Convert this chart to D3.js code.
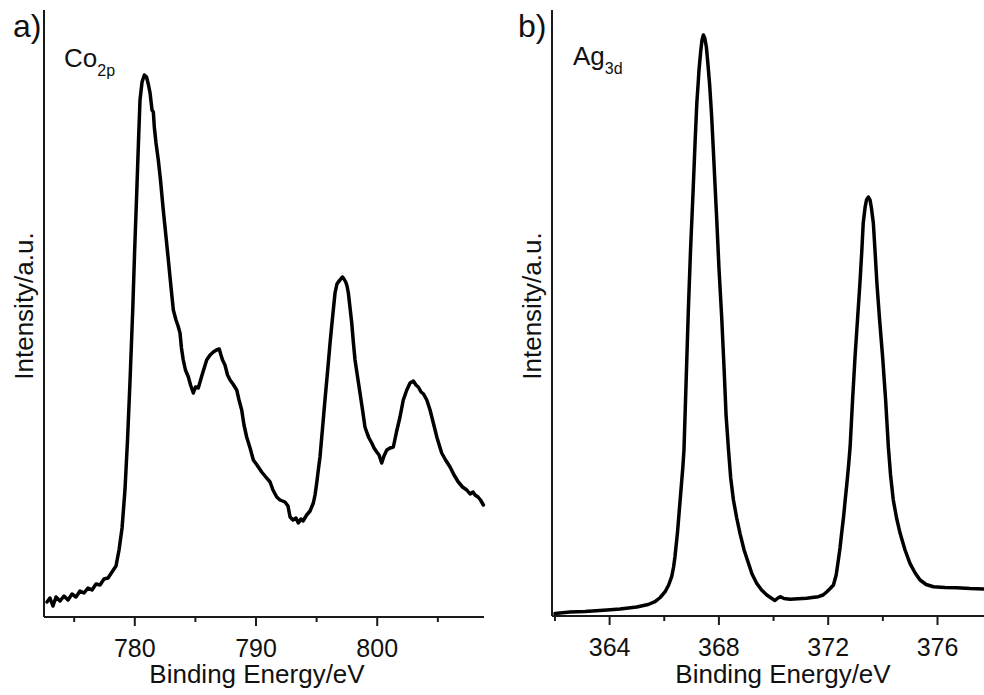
<!DOCTYPE html>
<html>
<head>
<meta charset="utf-8">
<script src="https://cdn.jsdelivr.net/npm/d3@7"></script>
<style>
  html, body { margin: 0; padding: 0; background: #fff; }
  svg { display: block; font-family: "Liberation Sans", Arial, sans-serif; }
</style>
</head>
<body>
<svg id="chart" width="984" height="695"></svg>
<script>
// ---------- Panel a: Co 2p ----------
const coEnergy = [772.80,773.04,773.29,773.54,773.87,774.20,774.53,774.86,775.19,775.52,775.85,776.18,776.51,776.84,777.17,777.50,777.83,778.16,778.49,778.74,778.99,779.23,779.44,779.65,779.87,780.03,780.20,780.35,780.47,780.64,780.83,781.01,781.17,781.30,781.46,781.57,781.65,781.79,781.98,782.16,782.39,782.60,782.81,783.01,783.22,783.44,783.61,783.77,783.89,784.04,784.22,784.46,784.64,784.87,785.05,785.28,785.59,785.97,786.25,786.52,786.78,787.01,787.15,787.28,787.48,787.69,787.90,788.14,788.45,788.64,788.86,789.05,789.27,789.55,789.82,790.12,790.51,790.78,791.20,791.44,791.75,792.02,792.43,792.68,792.85,793.09,793.34,793.53,793.75,793.92,794.22,794.50,794.77,794.91,795.05,795.18,795.32,795.53,795.73,795.94,796.15,796.35,796.56,796.72,796.83,796.97,797.16,797.30,797.44,797.55,797.66,797.80,797.94,798.07,798.21,798.42,798.62,798.83,799.03,799.20,799.36,799.59,799.78,800.00,800.19,800.41,800.60,800.83,801.10,801.37,801.63,801.92,802.19,802.48,802.75,803.02,803.24,803.43,803.66,803.86,804.13,804.40,804.67,804.98,805.36,805.68,806.05,806.38,806.73,807.08,807.43,807.70,807.95,808.11,808.36,808.56,808.80];
const coIntensity = [15,19,11,20,16,21,17,23,20,26,24,29,27,33,32,38,39,45,51,67,89,127,177,237,307,367,424,477,517,535,542,540,532,524,507,505,490,474,457,437,407,382,357,332,307,297,291,284,269,257,247,240,232,224,230,229,242,257,262,265,267,268,262,257,252,242,237,233,227,217,207,192,180,169,157,152,145,141,135,127,120,117,115,111,100,97,99,94,98,96,102,106,114,122,134,147,160,189,217,245,274,299,324,333,335,337,340,338,335,331,324,309,294,275,257,240,224,207,190,184,179,174,169,165,162,154,161,167,169,170,185,200,217,227,234,236,232,230,225,223,217,207,194,179,164,157,150,142,135,130,127,123,125,122,120,117,112];
const coMajorTicks = [780, 790, 800];
const coMinorTicks = [775, 785, 795, 805];

// ---------- Panel b: Ag 3d ----------
const agEnergy = [362.02,362.57,363.12,363.92,364.40,365.01,365.43,365.68,365.87,366.05,366.18,366.29,366.36,366.41,366.50,366.60,366.70,366.74,366.82,366.90,366.98,367.08,367.15,367.21,367.26,367.29,367.35,367.40,367.45,367.50,367.56,367.61,367.68,367.75,367.82,367.88,367.94,368.02,368.12,368.21,368.28,368.37,368.45,368.55,368.67,368.79,368.94,369.10,369.23,369.40,369.58,369.77,369.93,370.07,370.18,370.26,370.40,370.62,370.92,371.23,371.43,371.66,371.83,371.97,372.09,372.21,372.31,372.39,372.45,372.51,372.58,372.64,372.70,372.76,372.82,372.91,373.00,373.09,373.18,373.25,373.30,373.37,373.42,373.49,373.55,373.60,373.67,373.73,373.80,373.90,374.01,374.12,374.22,374.30,374.40,374.52,374.65,374.83,375.01,375.20,375.38,375.60,375.87,376.29,376.72,377.21,377.70];
const agIntensity = [2.5,4,4.5,6,7,9,11.5,14.3,18.5,24.3,31,39.3,49,59.3,82.7,116,149.3,166,236,306,366,429,476,513,533,546,564,576,581,578,569,554,531,501,463,429,396,348,299,246,201,166,138,116,98,82.7,66,52.7,42,32.7,26,21,18,15.5,18,19.3,17.5,16.7,17.2,17.7,18.5,19.3,21,24.3,27.5,31,41,56,68,82.7,99,116,132,149.3,169,216,259,296,333,366,393,409,416,419,416,408,393,366,333,296,259,216,169,141,116,98,82.7,66,52.7,43,36,31.5,29.3,28.5,28.3,27.5,27];
const agMajorTicks = [364, 368, 372, 376];
const agMinorTicks = [362, 366, 370, 374];

const panels = [
  { label: "a)", el: "Co", sub: "2p", energy: coEnergy, intensity: coIntensity,
    major: coMajorTicks, minor: coMinorTicks,
    xDomain: [772.55, 808.85], xRange: [44, 484], yDomain: [0, 607], yRange: [617, 10],
    labelX: 13, elX: 64, elY: 67, titleX: 257, yTitleX: 33 },
  { label: "b)", el: "Ag", sub: "3d", energy: agEnergy, intensity: agIntensity,
    major: agMajorTicks, minor: agMinorTicks,
    xDomain: [361.91, 377.72], xRange: [552, 984], yDomain: [0, 606], yRange: [616, 10],
    labelX: 518, elX: 573, elY: 65, titleX: 783, yTitleX: 541 }
];

const svg = d3.select("#chart");
const axisColor = "#1a1a1a";

panels.forEach(p => {
  const x = d3.scaleLinear().domain(p.xDomain).range(p.xRange);
  const y = d3.scaleLinear().domain(p.yDomain).range(p.yRange);
  const y0 = p.yRange[0];
  const g = svg.append("g");

  // minor ticks
  g.append("g").attr("transform", `translate(0,${y0})`)
    .call(d3.axisBottom(x).tickValues(p.minor).tickSize(5).tickSizeOuter(0).tickFormat(""))
    .call(s => s.select(".domain").remove())
    .call(s => s.selectAll("line").attr("stroke", axisColor).attr("stroke-width", 2));

  // major ticks with labels
  g.append("g").attr("transform", `translate(0,${y0})`)
    .call(d3.axisBottom(x).tickValues(p.major).tickSize(9).tickSizeOuter(0).tickPadding(13).tickFormat(d3.format("d")))
    .call(s => s.select(".domain").remove())
    .call(s => s.selectAll("line").attr("stroke", axisColor).attr("stroke-width", 2))
    .call(s => s.selectAll("text").attr("fill", "#111").style("font-size", "25px")
      .style("font-family", '"Liberation Sans", Arial, sans-serif'));

  // axis lines
  g.append("line").attr("x1", p.xRange[0]).attr("x2", p.xRange[1])
    .attr("y1", y0).attr("y2", y0).attr("stroke", axisColor).attr("stroke-width", 2);
  g.append("line").attr("x1", p.xRange[0]).attr("x2", p.xRange[0])
    .attr("y1", p.yRange[1]).attr("y2", y0).attr("stroke", axisColor).attr("stroke-width", 2);

  // curve
  const data = p.energy.map((e, i) => [e, p.intensity[i]]);
  g.append("path").datum(data)
    .attr("fill", "none").attr("stroke", "#000").attr("stroke-width", 3.5)
    .attr("stroke-linejoin", "round").attr("stroke-linecap", "round")
    .attr("d", d3.line().x(d => x(d[0])).y(d => y(d[1])));

  // axis titles
  g.append("text").attr("x", p.titleX).attr("y", 683).attr("text-anchor", "middle")
    .style("font-size", "26px").attr("fill", "#111").text("Binding Energy/eV");
  g.append("text").attr("transform", `translate(${p.yTitleX},306) rotate(-90)`)
    .attr("text-anchor", "middle").style("font-size", "26px").attr("fill", "#111")
    .text("Intensity/a.u.");

  // panel label
  g.append("text").attr("x", p.labelX).attr("y", 37).style("font-size", "32px")
    .attr("fill", "#111").text(p.label);

  // element label with subscript
  const t = g.append("text").attr("x", p.elX).attr("y", p.elY).style("font-size", "26px").attr("fill", "#111");
  t.append("tspan").text(p.el);
  t.append("tspan").attr("dy", 9).style("font-size", "16px").text(p.sub);
});
</script>
</body>
</html>
